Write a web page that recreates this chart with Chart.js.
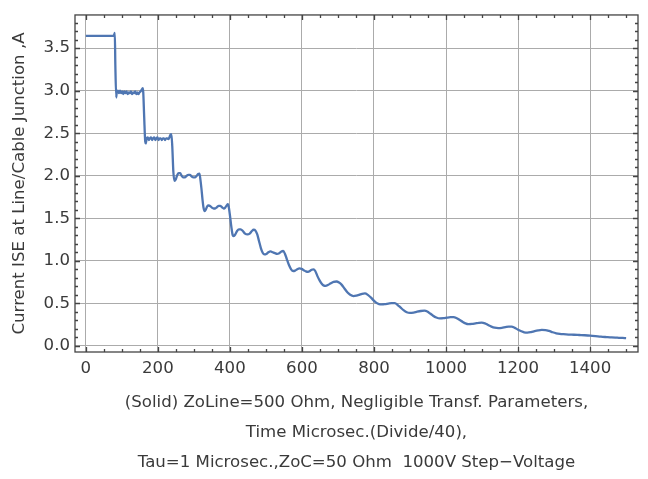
<!DOCTYPE html>
<html>
<head>
<meta charset="utf-8">
<script src="https://cdn.jsdelivr.net/npm/chart.js@4/dist/chart.umd.min.js"></script>
<style>
  html, body { margin: 0; padding: 0; background: #fff; }
  #wrap { width: 648px; height: 479px; }
</style>
</head>
<body>
<div id="wrap"><canvas id="chart"></canvas></div>
<script>
// time (microsec, divide/40) and current at the line/cable junction (A)
const times = [
    0, 76, 79, 80.5, 82, 84.5,
    86, 89, 92, 95, 98, 101, 104, 107, 110, 113, 116, 119, 122, 125, 128, 131, 134, 137, 140, 143, 146, 149, 152, 155, 158,
    159.5, 162, 165, 166.5,
    169, 172, 175, 178, 181, 184, 187, 190, 193, 196, 199, 202, 205, 208, 211, 214, 217, 220, 223, 226, 229, 232, 235, 237.5,
    240, 243, 246,
    250, 254, 258, 262, 266, 270, 275, 280, 285, 289, 294, 299, 303, 308, 312, 315.5,
    318, 321, 324, 327, 330,
    333, 337, 341, 345, 350, 355, 359, 364, 369, 373, 378, 383, 387, 391, 394.5,
    397, 400, 404, 408, 411,
    415, 420, 425, 430, 436, 442, 449, 455, 461, 466, 471, 476, 481, 486, 491, 496,
    501, 507, 513, 519, 525, 531, 537, 543, 548, 553, 558, 564, 570, 576,
    581, 587, 593, 599, 605, 611, 617, 622, 627, 632, 637, 643, 649, 655, 661, 666,
    672, 680, 688, 696, 703, 710, 718, 726, 734, 743,
    751, 759, 767, 775, 783, 791, 799, 807, 814, 821,
    830, 840, 849, 858, 866, 874, 882, 891, 900,
    910, 920, 930, 940, 948, 956, 964, 973, 983,
    993, 1003, 1012, 1021, 1030, 1038, 1046, 1054, 1062,
    1072, 1082, 1091, 1099, 1108, 1117, 1126, 1135, 1145,
    1155, 1165, 1174, 1182, 1191, 1200, 1209, 1217, 1226,
    1236, 1246, 1256, 1266, 1276, 1286, 1296, 1306, 1316, 1326,
    1340, 1355, 1370, 1385, 1400, 1415, 1430, 1446, 1460, 1475, 1490, 1500
];
const current = [
    3.645, 3.645, 3.66, 3.68, 3.3, 2.92,
    2.99, 3.00, 2.97, 3.00, 2.97, 2.99, 2.96, 2.99, 2.97, 2.99, 2.96, 2.98, 2.97, 2.99, 2.96, 2.98, 2.97, 2.99, 2.96, 2.98, 2.96, 2.98, 2.99, 3.01, 3.03,
    2.98, 2.70, 2.40, 2.38,
    2.44, 2.45, 2.42, 2.44, 2.45, 2.42, 2.44, 2.45, 2.42, 2.44, 2.45, 2.42, 2.44, 2.44, 2.42, 2.44, 2.44, 2.42, 2.44, 2.44, 2.43, 2.45, 2.48, 2.49,
    2.35, 2.05, 1.94,
    1.96, 2.01, 2.03, 2.03, 2.00, 1.98, 1.98, 2.00, 2.01, 2.01, 1.99, 1.98, 1.98, 2.00, 2.02, 2.025,
    1.96, 1.85, 1.72, 1.62, 1.585,
    1.60, 1.64, 1.65, 1.645, 1.625, 1.615, 1.615, 1.63, 1.645, 1.645, 1.63, 1.615, 1.625, 1.65, 1.665,
    1.63, 1.54, 1.40, 1.30, 1.29,
    1.31, 1.35, 1.37, 1.37, 1.35, 1.32, 1.31, 1.32, 1.35, 1.365, 1.355, 1.31, 1.23, 1.15, 1.095, 1.075,
    1.08, 1.10, 1.11, 1.10, 1.09, 1.082, 1.09, 1.11, 1.115, 1.08, 1.02, 0.95, 0.90, 0.88,
    0.885, 0.90, 0.91, 0.905, 0.89, 0.875, 0.87, 0.88, 0.895, 0.90, 0.88, 0.82, 0.77, 0.73, 0.708, 0.705,
    0.715, 0.735, 0.752, 0.757, 0.745, 0.72, 0.675, 0.63, 0.60, 0.585,
    0.59, 0.60, 0.612, 0.617, 0.60, 0.57, 0.535, 0.505, 0.492, 0.488,
    0.49, 0.497, 0.502, 0.502, 0.48, 0.45, 0.42, 0.395, 0.387,
    0.392, 0.402, 0.41, 0.414, 0.405, 0.38, 0.355, 0.334, 0.323,
    0.325, 0.332, 0.337, 0.338, 0.325, 0.305, 0.283, 0.265, 0.256,
    0.258, 0.265, 0.271, 0.273, 0.265, 0.245, 0.227, 0.214, 0.209,
    0.212, 0.22, 0.226, 0.226, 0.212, 0.19, 0.172, 0.16, 0.156,
    0.162, 0.173, 0.182, 0.187, 0.186, 0.176, 0.16, 0.148, 0.141, 0.137,
    0.133, 0.131, 0.128, 0.125, 0.121, 0.115, 0.108, 0.103, 0.099, 0.096, 0.093, 0.09
];

const xTicks = [0, 200, 400, 600, 800, 1000, 1200, 1400];
const yTicks = [0, 0.5, 1.0, 1.5, 2.0, 2.5, 3.0, 3.5];

const yTitle = 'Current ISE at Line/Cable Junction ,A';
const xTitle = [
    '(Solid) ZoLine=500 Ohm, Negligible Transf. Parameters,',
    'Time Microsec.(Divide/40),',
    'Tau=1 Microsec.,ZoC=50 Ohm  1000V Step\u2212Voltage'
];

const textColor = '#3a3a3a';
const fontFamily = '"DejaVu Sans", sans-serif';

// mathematica style frame with inward ticks on all four sides
const frameTicks = {
    id: 'frameTicks',
    afterDatasetsDraw(chart) {
        const { ctx, chartArea: a, scales: { x, y } } = chart;
        ctx.save();
        ctx.strokeStyle = '#444';
        ctx.lineWidth = 1.3;
        ctx.beginPath();
        for (let i = 0; i <= 30; i++) {
            const p = Math.round(x.getPixelForValue(i * 50)) + 0.5;
            const len = i % 4 === 0 ? 5 : 3;
            ctx.moveTo(p, a.bottom); ctx.lineTo(p, a.bottom - len);
            ctx.moveTo(p, a.top); ctx.lineTo(p, a.top + len);
        }
        for (let i = 0; i <= 38; i++) {
            const p = Math.round(y.getPixelForValue(i / 10)) + 0.5;
            const len = i % 5 === 0 ? 5 : 3;
            ctx.moveTo(a.left, p); ctx.lineTo(a.left + len, p);
            ctx.moveTo(a.right, p); ctx.lineTo(a.right - len, p);
        }
        ctx.stroke();
        ctx.strokeRect(a.left, a.top, a.right - a.left, a.bottom - a.top);
        ctx.restore();
    }
};

new Chart(document.getElementById('chart'), {
    type: 'line',
    data: {
        datasets: [{
            data: times.map((t, i) => ({ x: t, y: current[i] })),
            borderColor: '#4f76b2',
            borderWidth: 2.3,
            pointRadius: 0,
            cubicInterpolationMode: 'monotone',
            fill: false
        }]
    },
    options: {
        responsive: true,
        maintainAspectRatio: false,
        animation: false,
        layout: { padding: { left: 0, right: 10, top: 4, bottom: 0 } },
        plugins: { legend: { display: false }, tooltip: { enabled: false } },
        scales: {
            x: {
                type: 'linear',
                min: -30,
                max: 1533,
                afterBuildTicks: s => { s.ticks = xTicks.map(v => ({ value: v })); },
                afterFit: s => { s.height = 127; },
                grid: { color: '#ababab', lineWidth: 1, drawTicks: false },
                border: { display: false },
                ticks: {
                    padding: 7,
                    color: textColor,
                    font: { family: fontFamily, size: 16.6 },
                    maxRotation: 0,
                    callback: v => String(v)
                },
                title: {
                    display: true,
                    text: xTitle,
                    color: textColor,
                    font: { family: fontFamily, size: 16.6, lineHeight: 1.78 },
                    padding: { top: 0, bottom: 2 }
                }
            },
            y: {
                type: 'linear',
                min: -0.072,
                max: 3.89,
                afterBuildTicks: s => { s.ticks = yTicks.map(v => ({ value: v })); },
                afterFit: s => { s.width = 75; },
                grid: { color: '#ababab', lineWidth: 1, drawTicks: false },
                border: { display: false },
                ticks: {
                    padding: 5,
                    color: textColor,
                    font: { family: fontFamily, size: 16.6 },
                    callback: v => v.toFixed(1)
                },
                title: {
                    display: true,
                    text: yTitle,
                    color: textColor,
                    font: { family: fontFamily, size: 16.6, lineHeight: 1.2 },
                    padding: { top: 10, bottom: 0 }
                }
            }
        }
    },
    plugins: [frameTicks]
});
</script>
</body>
</html>
